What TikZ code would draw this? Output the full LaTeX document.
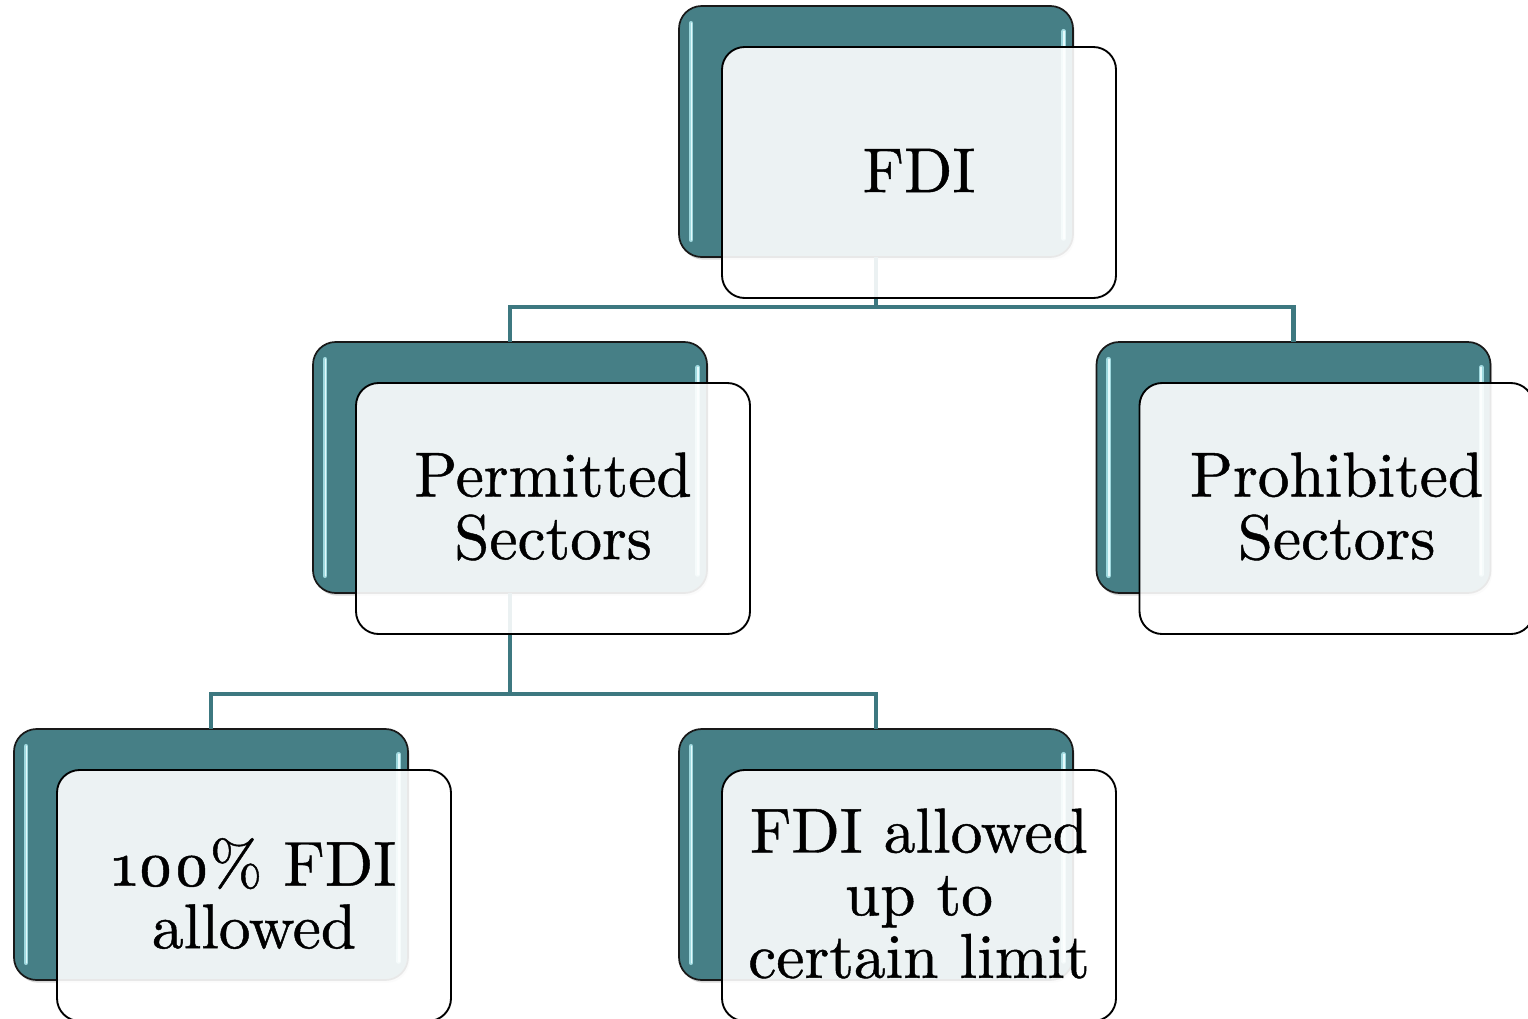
\documentclass[tikz,border=0pt]{standalone}
\usepackage{fontspec}
\usetikzlibrary{shadows}
\newfontfamily\labelfont{lmroman10-regular}[Extension=.otf, FakeBold=0.7]
\newfontfamily\labelosf{lmroman10-regular}[Extension=.otf, FakeBold=0.7, Numbers=OldStyle]
\definecolor{tealbox}{HTML}{467F86}
\definecolor{tealline}{HTML}{3D7880}
\definecolor{gloss}{HTML}{9ED8DE}
\definecolor{glosscore}{HTML}{E4FAFC}
\begin{document}
\begin{tikzpicture}[x=0.75pt,y=-0.75pt,
  backbox/.style={draw=black!90, line width=1.3pt, fill=tealbox, rounded corners=17pt,
    minimum width=295.5pt, minimum height=188.25pt, inner sep=0pt, outer sep=0pt,
    drop shadow={opacity=0.3, shadow xshift=1.2pt, shadow yshift=-2pt}},
  frontbox/.style={draw=black, line width=1.4pt, fill=white, fill opacity=0.9, text opacity=1,
    rounded corners=17pt, minimum width=295.5pt, minimum height=188.25pt,
    inner sep=0pt, outer sep=0pt, align=center,
    font=\labelfont\fontsize{47.5}{47}\selectfont},
  label/.style={align=center, inner sep=0pt, font=\labelfont\fontsize{47.5}{47}\selectfont},
  conn/.style={draw=tealline, line width=3.2pt},
  shine/.style={draw=gloss, line width=3.6pt, line cap=round},
  shinecore/.style={draw=glosscore, line width=1.3pt, line cap=round}
]
\clip (0,0) rectangle (1528,1018);
\fill[white] (0,0) rectangle (1528,1018);

% back (teal) cards
\node[backbox] (fdiB)  at (876,131.5) {};
\node[backbox] (permB) at (510,467.5) {};
\node[backbox] (prohB) at (1293.5,467.5) {};
\node[backbox] (fullB) at (211,854.5) {};
\node[backbox] (limB)  at (876,854.5) {};

% glossy edge highlights on the teal cards
\foreach \b in {fdiB,permB,prohB,fullB,limB}{
  \draw[shine] ([xshift=9pt,yshift=-13pt]\b.north west) -- ([xshift=9pt,yshift=13pt]\b.south west);
  \draw[shinecore] ([xshift=9.3pt,yshift=-13pt]\b.north west) -- ([xshift=9.3pt,yshift=13pt]\b.south west);
  \draw[shine] ([xshift=-7pt,yshift=-19pt]\b.north east) -- ([xshift=-7pt,yshift=14pt]\b.south east);
  \draw[shinecore] ([xshift=-7pt,yshift=-19pt]\b.north east) -- ([xshift=-7pt,yshift=14pt]\b.south east);
}

% tree connectors
\draw[conn] (fdiB.south) -- ++(0,50) -| (permB.north);
\draw[conn] (fdiB.south) ++(0,50) -| (prohB.north);
\draw[conn] (permB.south) -- ++(0,101) -| (fullB.north);
\draw[conn] (permB.south) ++(0,101) -| (limB.north);

% front (light) cards carrying the labels
\node[frontbox] (fdi)  at (919,172.5) {};
\node[frontbox] (perm) at (553,508.5) {};
\node[frontbox] (proh) at (1336.5,508.5) {};
\node[frontbox] (full) at (254,895.5) {};
\node[frontbox] (lim)  at (919,895.5) {};

\node[label] (fdiT)  at ([yshift=1.5pt]fdi.center)  {FDI};
\node[label] (permT) at ([yshift=1.5pt]perm.center) {Permitted\\Sectors};
\node[label] (prohT) at ([yshift=1.5pt]proh.center) {Prohibited\\Sectors};
\node[label] (fullT) at ([yshift=1.5pt]full.center) {{\labelosf 100}\% FDI\\allowed};
\node[label] (limT)  at ([yshift=1.5pt]lim.center)  {FDI allowed\\up to\\certain limit};
\end{tikzpicture}
\end{document}
